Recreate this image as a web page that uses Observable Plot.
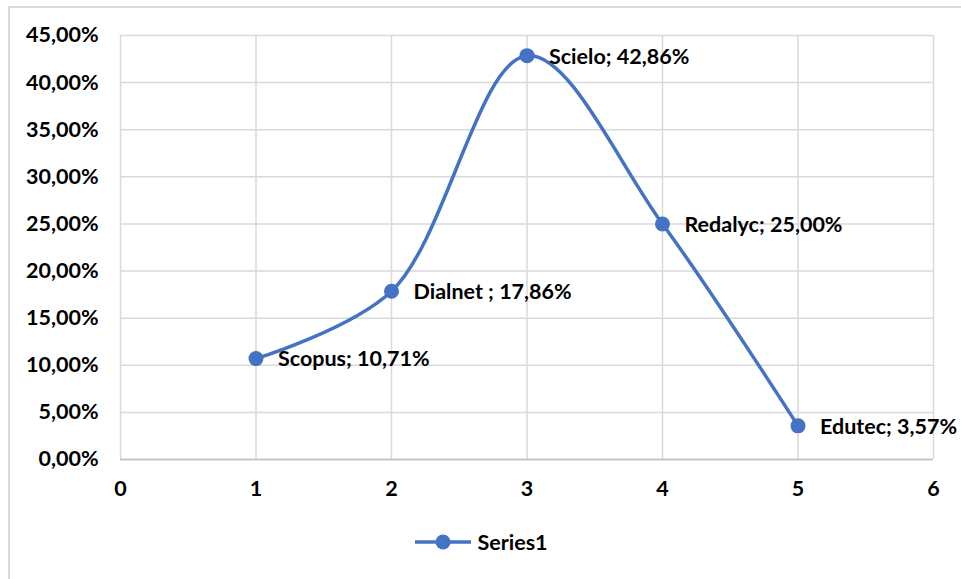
<!DOCTYPE html>
<html>
<head>
<meta charset="utf-8">
<script src="https://cdn.jsdelivr.net/npm/d3@7"></script>
<script src="https://cdn.jsdelivr.net/npm/@observablehq/plot@0.6"></script>
<style>
  html, body { margin: 0; padding: 0; background: #fff; width: 961px; height: 579px; overflow: hidden; }
  #frame { position: absolute; left: 8px; top: 6px; width: 1000px; height: 700px; border-left: 2px solid #d9d9d9; border-top: 2px solid #d9d9d9; box-sizing: border-box; }
  #chart { position: absolute; left: 0; top: 0; }
  #legend { position: absolute; left: 0; top: 529px; width: 961px; display: flex; justify-content: center; align-items: center; font-family: Lato, "Open Sans", sans-serif; font-weight: bold; font-size: 21.5px; color: #000; }
  #legend svg { margin-right: 4px; }
</style>
</head>
<body>
<div id="frame"></div>
<div id="chart"></div>
<div id="legend"></div>
<script>
const names = ["Scopus", "Dialnet ", "Scielo", "Redalyc", "Edutec"];
const xs = [1, 2, 3, 4, 5];
const values = [10.71, 17.86, 42.86, 25.00, 3.57];
const yTicks = [0, 5, 10, 15, 20, 25, 30, 35, 40, 45];
const xTicks = [0, 1, 2, 3, 4, 5, 6];
const seriesName = "Series1";

const fmt = v => v.toFixed(2).replace(".", ",") + "%";
const data = names.map((n, i) => ({name: n, x: xs[i], y: values[i], label: `${n}; ${fmt(values[i])}`}));

const color = "#4472C4";
const font = 'Lato, "Open Sans", sans-serif';
const fs = 21.5;

const chart = Plot.plot({
  width: 961,
  height: 505,
  marginLeft: 120,
  marginRight: 28,
  marginTop: 35,
  marginBottom: 46,
  style: {fontFamily: font, fontSize: fs + "px", fontWeight: "bold", color: "#000", background: "transparent"},
  x: {domain: [0, 6], ticks: xTicks, tickFormat: d => String(d), label: null},
  y: {domain: [0, 45], ticks: yTicks, tickFormat: fmt, label: null},
  marks: [
    Plot.gridX(xTicks, {stroke: "#d9d9d9", strokeOpacity: 1, strokeWidth: 1.5}),
    Plot.gridY(yTicks, {stroke: "#d9d9d9", strokeOpacity: 1, strokeWidth: 1.5}),
    Plot.ruleY([0], {stroke: "#bfbfbf", strokeWidth: 1.5}),
    Plot.axisY(yTicks, {tickSize: 0, tickPadding: 22, tickFormat: fmt, fill: "#000", fontSize: fs, fontWeight: "bold", label: null}),
    Plot.axisX(xTicks, {tickSize: 0, tickPadding: 21, tickFormat: d => String(d), fill: "#000", fontSize: fs, fontWeight: "bold", label: null}),
    Plot.line(data, {x: "x", y: "y", stroke: color, strokeWidth: 3.5, curve: "catmull-rom"}),
    Plot.dot(data, {x: "x", y: "y", fill: color, r: 7.5}),
    Plot.text(data, {x: "x", y: "y", text: "label", dx: 22, dy: 1, textAnchor: "start", fill: "#000", fontSize: fs, fontWeight: "bold"})
  ]
});
document.getElementById("chart").appendChild(chart);

const leg = document.getElementById("legend");
leg.innerHTML = `<svg width="60" height="22"><line x1="2" y1="11" x2="58" y2="11" stroke="${color}" stroke-width="3.5"/><circle cx="30" cy="11" r="7.5" fill="${color}"/></svg><span>${seriesName}</span>`;
</script>
</body>
</html>
